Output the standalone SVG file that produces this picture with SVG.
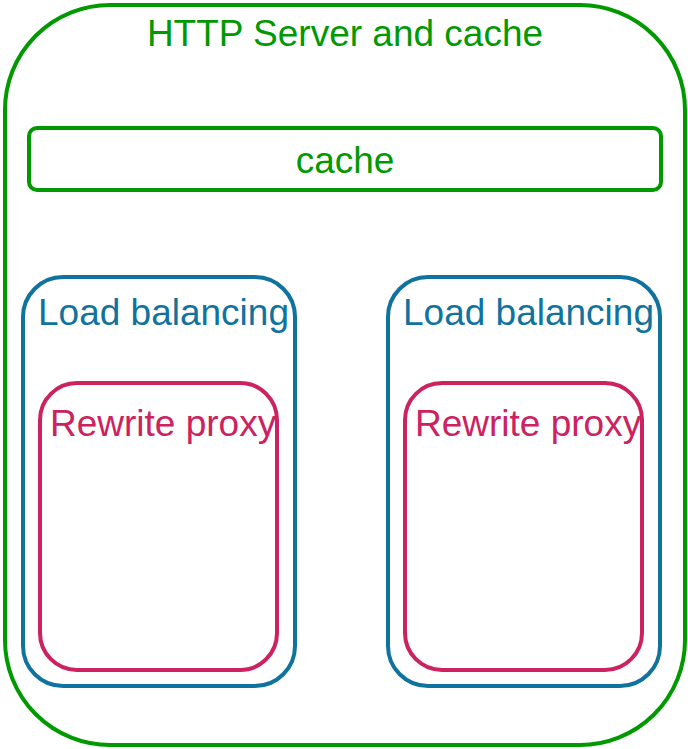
<svg xmlns="http://www.w3.org/2000/svg" width="688" height="749" viewBox="0 0 688 749">
<style>
  text { font-family: "Liberation Sans", Arial, sans-serif; font-size: 37px; }
  .g { fill: none; stroke: #009900; stroke-width: 4; }
  .b { fill: none; stroke: #10739E; stroke-width: 4; }
  .p { fill: none; stroke: #CC2260; stroke-width: 4; }
  .gt { fill: #009900; }
  .bt { fill: #10739E; }
  .pt { fill: #CC2260; }
</style>
<rect width="688" height="749" fill="#ffffff"/>
<g id="http-server">
  <rect class="g" x="5" y="5" width="680" height="740" rx="105" ry="105"/>
  <text class="gt" x="345" y="46" text-anchor="middle">HTTP Server and cache</text>
</g>
<g id="cache">
  <rect class="g" x="29" y="128" width="632" height="62" rx="8" ry="8"/>
  <text class="gt" x="345" y="173" text-anchor="middle">cache</text>
</g>
<g id="lb-left">
  <rect class="b" x="23" y="277" width="272" height="409" rx="40" ry="40"/>
  <text class="bt" x="38" y="325">Load balancing</text>
</g>
<g id="rp-left">
  <rect class="p" x="40" y="383" width="237" height="287" rx="37" ry="37"/>
  <text class="pt" x="50" y="436">Rewrite proxy</text>
</g>
<g id="lb-right">
  <rect class="b" x="388" y="277" width="272" height="409" rx="40" ry="40"/>
  <text class="bt" x="403" y="325">Load balancing</text>
</g>
<g id="rp-right">
  <rect class="p" x="405" y="383" width="237" height="287" rx="37" ry="37"/>
  <text class="pt" x="415" y="436">Rewrite proxy</text>
</g>
<g id="connectors"></g>
</svg>
